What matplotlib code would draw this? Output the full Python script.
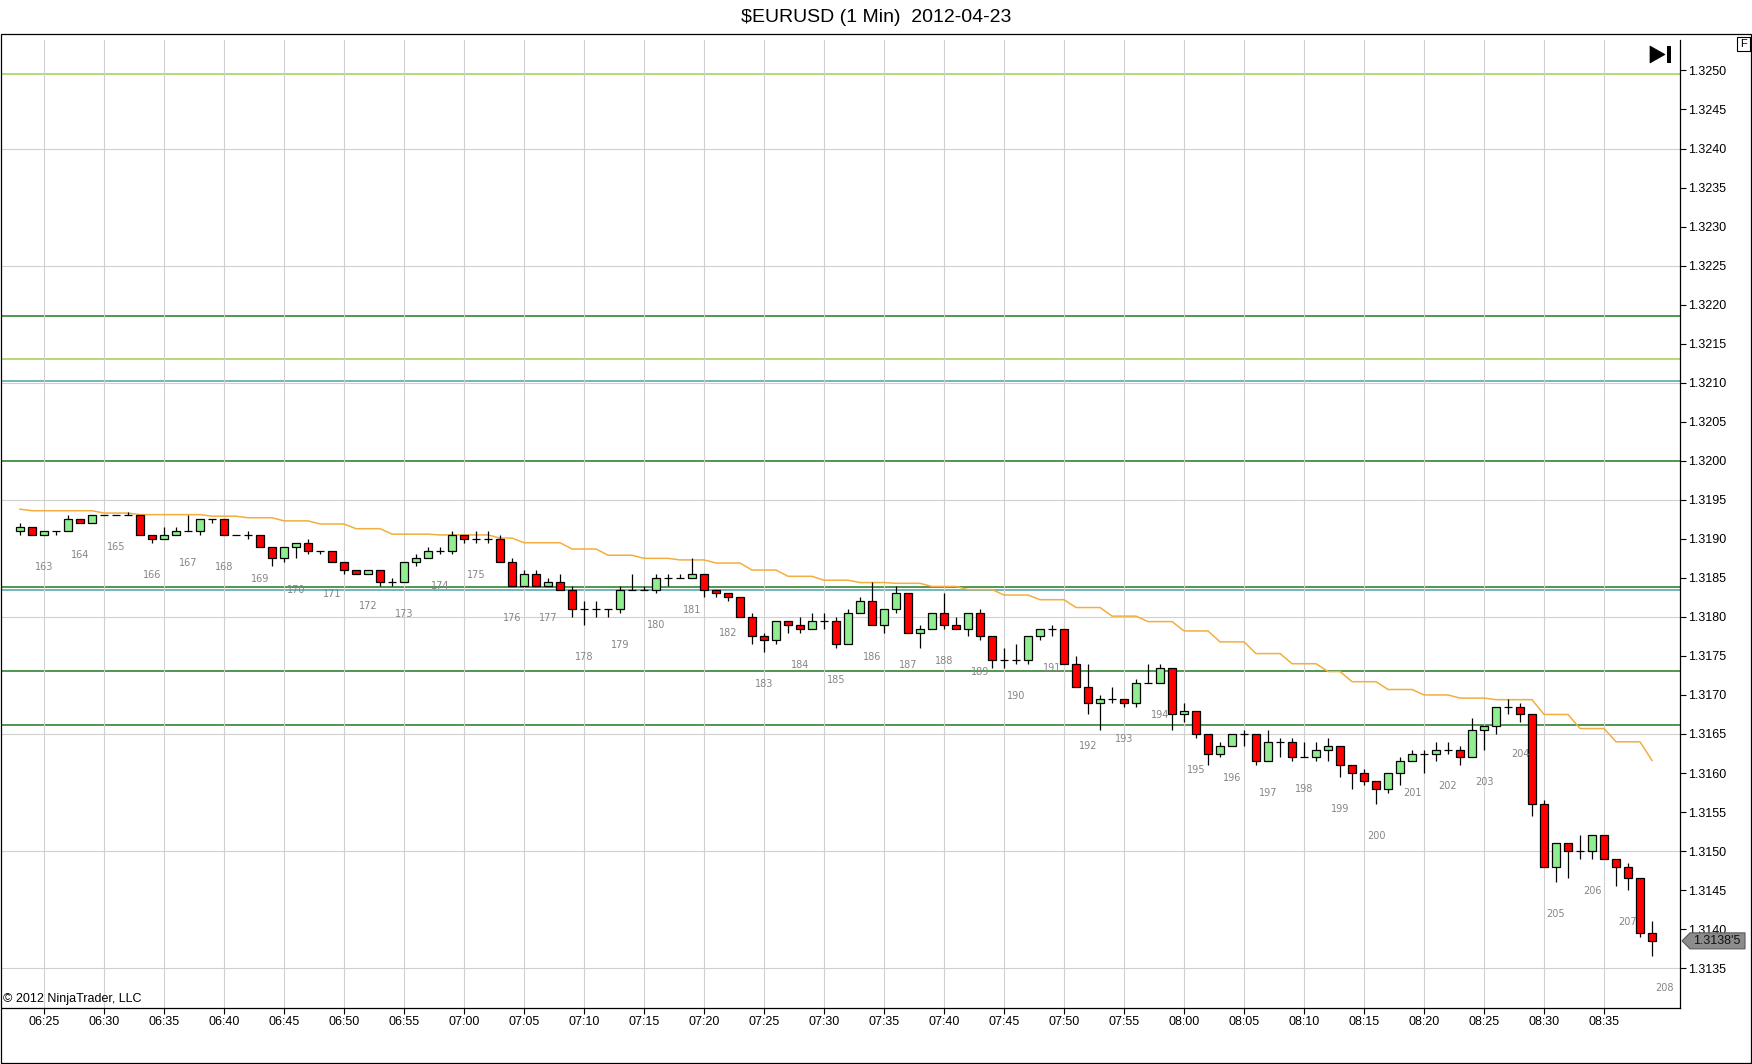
import numpy as np
import pandas as pd
import matplotlib
matplotlib.use("Agg")
import matplotlib.pyplot as plt
from matplotlib.patches import Rectangle, Polygon

plt.rcParams['font.family'] = ['Liberation Sans', 'DejaVu Sans']

W, H = 1752, 1064

# ---- data ----
title = "$EURUSD (1 Min)  2012-04-23"
start_time = "2012-04-23 06:23"

opens = [
    1.31910, 1.31915, 1.31905, 1.31910, 1.31910, 1.31925, 1.31920, 1.31930, 1.31930, 1.31930,
    1.31930, 1.31905, 1.31900, 1.31905, 1.31910, 1.31910, 1.31925, 1.31925, 1.31905, 1.31905,
    1.31905, 1.31890, 1.31875, 1.31890, 1.31895, 1.31885, 1.31885, 1.31870, 1.31860, 1.31855,
    1.31860, 1.31845, 1.31845, 1.31870, 1.31875, 1.31885, 1.31885, 1.31905, 1.31900, 1.31900,
    1.31900, 1.31870, 1.31840, 1.31855, 1.31840, 1.31845, 1.31835, 1.31810, 1.31810, 1.31810,
    1.31810, 1.31835, 1.31835, 1.31835, 1.31850, 1.31850, 1.31850, 1.31855, 1.31835, 1.31830,
    1.31825, 1.31800, 1.31775, 1.31770, 1.31795, 1.31790, 1.31785, 1.31795, 1.31795, 1.31765,
    1.31805, 1.31820, 1.31790, 1.31810, 1.31830, 1.31780, 1.31785, 1.31805, 1.31790, 1.31785,
    1.31805, 1.31775, 1.31745, 1.31745, 1.31745, 1.31775, 1.31785, 1.31785, 1.31740, 1.31710,
    1.31690, 1.31695, 1.31695, 1.31690, 1.31715, 1.31715, 1.31735, 1.31675, 1.31680, 1.31650,
    1.31625, 1.31635, 1.31650, 1.31650, 1.31615, 1.31640, 1.31640, 1.31620, 1.31620, 1.31630,
    1.31635, 1.31610, 1.31600, 1.31590, 1.31580, 1.31600, 1.31615, 1.31625, 1.31625, 1.31630,
    1.31630, 1.31620, 1.31655, 1.31660, 1.31685, 1.31685, 1.31675, 1.31560, 1.31480, 1.31510,
    1.31500, 1.31500, 1.31520, 1.31490, 1.31480, 1.31465, 1.31395]
highs = [
    1.31920, 1.31915, 1.31910, 1.31910, 1.31930, 1.31925, 1.31930, 1.31930, 1.31930, 1.31935,
    1.31930, 1.31905, 1.31915, 1.31915, 1.31930, 1.31925, 1.31925, 1.31925, 1.31905, 1.31910,
    1.31905, 1.31890, 1.31890, 1.31895, 1.31900, 1.31885, 1.31885, 1.31870, 1.31860, 1.31860,
    1.31860, 1.31850, 1.31870, 1.31880, 1.31890, 1.31890, 1.31910, 1.31905, 1.31910, 1.31910,
    1.31905, 1.31875, 1.31860, 1.31860, 1.31850, 1.31855, 1.31840, 1.31820, 1.31820, 1.31810,
    1.31840, 1.31855, 1.31840, 1.31855, 1.31855, 1.31855, 1.31875, 1.31855, 1.31835, 1.31830,
    1.31825, 1.31805, 1.31780, 1.31795, 1.31795, 1.31800, 1.31805, 1.31805, 1.31800, 1.31810,
    1.31825, 1.31845, 1.31810, 1.31840, 1.31830, 1.31790, 1.31805, 1.31830, 1.31800, 1.31805,
    1.31810, 1.31775, 1.31760, 1.31765, 1.31775, 1.31785, 1.31790, 1.31785, 1.31750, 1.31740,
    1.31700, 1.31710, 1.31695, 1.31720, 1.31740, 1.31740, 1.31735, 1.31690, 1.31680, 1.31650,
    1.31640, 1.31650, 1.31655, 1.31650, 1.31655, 1.31645, 1.31645, 1.31640, 1.31640, 1.31645,
    1.31635, 1.31610, 1.31605, 1.31590, 1.31600, 1.31620, 1.31630, 1.31630, 1.31640, 1.31640,
    1.31635, 1.31670, 1.31660, 1.31685, 1.31695, 1.31690, 1.31675, 1.31565, 1.31510, 1.31510,
    1.31520, 1.31520, 1.31520, 1.31490, 1.31485, 1.31465, 1.31410]
lows = [
    1.31905, 1.31905, 1.31905, 1.31905, 1.31910, 1.31920, 1.31920, 1.31930, 1.31930, 1.31930,
    1.31905, 1.31895, 1.31900, 1.31905, 1.31910, 1.31905, 1.31920, 1.31905, 1.31905, 1.31900,
    1.31890, 1.31865, 1.31870, 1.31875, 1.31880, 1.31880, 1.31870, 1.31855, 1.31855, 1.31855,
    1.31840, 1.31840, 1.31845, 1.31865, 1.31875, 1.31880, 1.31880, 1.31895, 1.31895, 1.31895,
    1.31870, 1.31840, 1.31840, 1.31840, 1.31840, 1.31835, 1.31800, 1.31790, 1.31800, 1.31800,
    1.31805, 1.31835, 1.31835, 1.31830, 1.31840, 1.31850, 1.31850, 1.31825, 1.31825, 1.31820,
    1.31800, 1.31765, 1.31755, 1.31765, 1.31780, 1.31780, 1.31785, 1.31785, 1.31760, 1.31765,
    1.31805, 1.31790, 1.31780, 1.31805, 1.31780, 1.31760, 1.31785, 1.31785, 1.31785, 1.31775,
    1.31770, 1.31735, 1.31735, 1.31740, 1.31740, 1.31770, 1.31775, 1.31740, 1.31710, 1.31675,
    1.31655, 1.31690, 1.31685, 1.31685, 1.31715, 1.31715, 1.31655, 1.31665, 1.31645, 1.31610,
    1.31620, 1.31635, 1.31635, 1.31610, 1.31615, 1.31620, 1.31615, 1.31620, 1.31615, 1.31615,
    1.31595, 1.31580, 1.31585, 1.31560, 1.31575, 1.31585, 1.31615, 1.31600, 1.31615, 1.31625,
    1.31610, 1.31620, 1.31630, 1.31650, 1.31675, 1.31665, 1.31545, 1.31480, 1.31460, 1.31465,
    1.31490, 1.31490, 1.31490, 1.31455, 1.31450, 1.31390, 1.31365]
closes = [
    1.31915, 1.31905, 1.31910, 1.31910, 1.31925, 1.31920, 1.31930, 1.31930, 1.31930, 1.31930,
    1.31905, 1.31900, 1.31905, 1.31910, 1.31910, 1.31925, 1.31925, 1.31905, 1.31905, 1.31905,
    1.31890, 1.31875, 1.31890, 1.31895, 1.31885, 1.31885, 1.31870, 1.31860, 1.31855, 1.31860,
    1.31845, 1.31845, 1.31870, 1.31875, 1.31885, 1.31885, 1.31905, 1.31900, 1.31900, 1.31900,
    1.31870, 1.31840, 1.31855, 1.31840, 1.31845, 1.31835, 1.31810, 1.31810, 1.31810, 1.31810,
    1.31835, 1.31835, 1.31835, 1.31850, 1.31850, 1.31850, 1.31855, 1.31835, 1.31830, 1.31825,
    1.31800, 1.31775, 1.31770, 1.31795, 1.31790, 1.31785, 1.31795, 1.31795, 1.31765, 1.31805,
    1.31820, 1.31790, 1.31810, 1.31830, 1.31780, 1.31785, 1.31805, 1.31790, 1.31785, 1.31805,
    1.31775, 1.31745, 1.31745, 1.31745, 1.31775, 1.31785, 1.31785, 1.31740, 1.31710, 1.31690,
    1.31695, 1.31695, 1.31690, 1.31715, 1.31715, 1.31735, 1.31675, 1.31680, 1.31650, 1.31625,
    1.31635, 1.31650, 1.31650, 1.31615, 1.31640, 1.31640, 1.31620, 1.31620, 1.31630, 1.31635,
    1.31610, 1.31600, 1.31590, 1.31580, 1.31600, 1.31615, 1.31625, 1.31625, 1.31630, 1.31630,
    1.31620, 1.31655, 1.31660, 1.31685, 1.31685, 1.31675, 1.31560, 1.31480, 1.31510, 1.31500,
    1.31500, 1.31520, 1.31490, 1.31480, 1.31465, 1.31395, 1.31385]

# orange stepped indicator line
trail = [
    1.31938, 1.31936, 1.31936, 1.31936, 1.31936, 1.31936, 1.31936, 1.31933, 1.31933, 1.31933,
    1.31931, 1.31931, 1.31931, 1.31931, 1.31931, 1.31931, 1.31929, 1.31929, 1.31929, 1.31927,
    1.31927, 1.31927, 1.31923, 1.31923, 1.31923, 1.31919, 1.31919, 1.31919, 1.31913, 1.31913,
    1.31913, 1.31906, 1.31906, 1.31906, 1.31906, 1.31905, 1.31905, 1.31905, 1.31905, 1.31905,
    1.31901, 1.31901, 1.31895, 1.31895, 1.31895, 1.31895, 1.31887, 1.31887, 1.31887, 1.31879,
    1.31879, 1.31879, 1.31875, 1.31875, 1.31875, 1.31873, 1.31873, 1.31873, 1.31869, 1.31869,
    1.31869, 1.31860, 1.31860, 1.31860, 1.31852, 1.31852, 1.31852, 1.31847, 1.31847, 1.31847,
    1.31844, 1.31844, 1.31844, 1.31843, 1.31843, 1.31843, 1.31839, 1.31839, 1.31839, 1.31835,
    1.31835, 1.31835, 1.31828, 1.31828, 1.31828, 1.31822, 1.31822, 1.31822, 1.31812, 1.31812,
    1.31812, 1.31801, 1.31801, 1.31801, 1.31794, 1.31794, 1.31794, 1.31782, 1.31782, 1.31782,
    1.31768, 1.31768, 1.31768, 1.31753, 1.31753, 1.31753, 1.31740, 1.31740, 1.31740, 1.31730,
    1.31730, 1.31717, 1.31717, 1.31717, 1.31707, 1.31707, 1.31707, 1.31700, 1.31700, 1.31700,
    1.31696, 1.31696, 1.31696, 1.31694, 1.31694, 1.31694, 1.31694, 1.31675, 1.31675, 1.31675,
    1.31657, 1.31657, 1.31657, 1.31640, 1.31640, 1.31640, 1.31616]

dark_levels = [1.32185, 1.32000, 1.31838, 1.31731, 1.31661]
light_levels = [1.32495, 1.32130]
teal_levels = [1.32102, 1.31834]

counter_labels = list(range(163, 209))
last_price = 1.31385
last_price_text = "1.3138'5"
copyright_text = "\u00a9 2012 NinjaTrader, LLC"

# ---- layout helpers (pixel positions, origin top-left) ----
def fpt(px, py):
    return px / W, 1 - py / H

times = pd.date_range(start_time, periods=len(opens), freq="min")
x = np.arange(len(opens))

fig = plt.figure(figsize=(W / 100, H / 100), dpi=100)
fig.patch.set_facecolor("white")
ax = fig.add_axes([2 / W, 1 - 1008 / H, (1680 - 2) / W, (1008 - 40) / H])

ax.set_xlim(-1.5, 138.33)
ax.set_ylim(1.31299, 1.32539)

# grid
tick_idx = x[times.minute % 5 == 0]
ax.set_xticks(tick_idx)
ax.set_xticklabels(times[tick_idx].strftime("%H:%M"))
ax.grid(axis="x", color="#d0d0d0", lw=0.8, zorder=0)
for g in np.arange(1.3135, 1.3255, 0.0015):
    ax.axhline(g, color="#d0d0d0", lw=0.8, zorder=0)

yt = np.arange(1.3135, 1.32501, 0.0005)
ax.set_yticks(yt)
ax.set_yticklabels([f"{v:.4f}" for v in yt])
ax.yaxis.tick_right()
ax.tick_params(axis="both", direction="out", length=4, width=0.8,
               labelsize=9, pad=2, colors="black")

for s in ["top", "left"]:
    ax.spines[s].set_visible(False)
ax.spines["bottom"].set_linewidth(0.9)
ax.spines["right"].set_linewidth(0.9)

# horizontal levels
for lv in dark_levels:
    ax.axhline(lv, color="#1f7a1f", lw=1.1, zorder=1)
for lv in light_levels:
    ax.axhline(lv, color="#9ad34a", lw=1.1, zorder=1)
for lv in teal_levels:
    ax.axhline(lv, color="#4aa3a8", lw=1.1, zorder=1)

# orange line
ax.plot(x, trail, color="#f3ae3d", lw=1.1, zorder=2)

# candles
bw = 0.67
for i in range(len(opens)):
    o, h, l, c = opens[i], highs[i], lows[i], closes[i]
    ax.vlines(i, l, h, color="black", lw=0.9, zorder=3)
    if abs(o - c) < 1e-7:
        ax.hlines(o, i - bw / 2, i + bw / 2, color="black", lw=0.9, zorder=4)
    else:
        col = "#90ee90" if c > o else "#ff0000"
        ax.add_patch(Rectangle((i - bw / 2, min(o, c)), bw, abs(c - o),
                               facecolor=col, edgecolor="black", lw=0.9, zorder=4))

# bar counter labels
for k, num in enumerate(counter_labels):
    i = 2 + 3 * k
    low = lows[min(i, len(lows) - 1)]
    ax.annotate(str(num), (i, low), xytext=(0, -32), textcoords="offset pixels",
                ha="center", va="center", fontsize=7, color="#858585",
                family="DejaVu Sans", zorder=5, annotation_clip=False)

# outer frame
fig.patches.append(Rectangle(fpt(1, 1063), 1750 / W, (1063 - 34) / H, fill=False,
                             ec="black", lw=0.9, transform=fig.transFigure))

fig.text(0.5, 1 - 18 / H, title, ha="center", va="center", fontsize=14)
fig.text(3 / W, 1 - 999 / H, copyright_text, ha="left", va="center", fontsize=9)

# ">|" marker top right
fig.patches.append(Polygon([fpt(1650, 46), fpt(1650, 63), fpt(1665, 54.5)],
                           closed=True, fc="black", ec="black", lw=0.5,
                           transform=fig.transFigure))
fig.patches.append(Rectangle(fpt(1667, 63), 4 / W, 17 / H, fc="black", ec="none",
                             transform=fig.transFigure))
# F box
fig.patches.append(Rectangle(fpt(1737, 51), 13 / W, 14 / H, fc="white", ec="black",
                             lw=0.8, transform=fig.transFigure))
fig.text(1743.5 / W, 1 - 44 / H, "F", ha="center", va="center", fontsize=8)

# last price marker
yd = ax.transData.transform((0, last_price))[1]
ypx = H - yd
fig.patches.append(Polygon([fpt(1682, ypx), fpt(1690, ypx - 8), fpt(1745, ypx - 8),
                            fpt(1745, ypx + 8), fpt(1690, ypx + 8)], closed=True,
                           fc="#8c8c8c", ec="#5a5a5a", lw=0.8, transform=fig.transFigure))
fig.text(1717 / W, 1 - ypx / H, last_price_text, ha="center", va="center",
         fontsize=9, color="#111111")

fig.savefig("out.png", dpi=100)
